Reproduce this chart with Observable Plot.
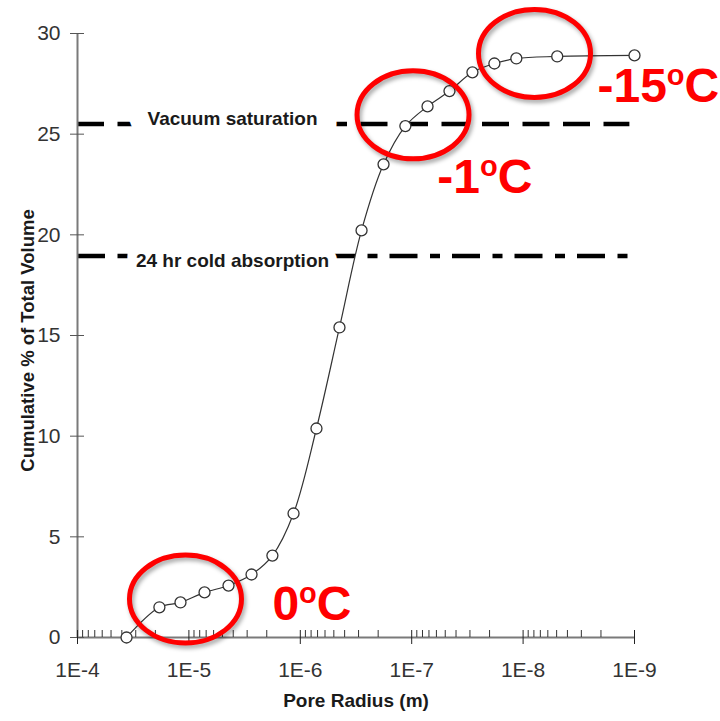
<!DOCTYPE html>
<html>
<head>
<meta charset="utf-8">
<script src="https://cdn.jsdelivr.net/npm/d3@7"></script>
<script src="https://cdn.jsdelivr.net/npm/@observablehq/plot@0.6"></script>
<style>
  html, body { margin: 0; padding: 0; background: white; }
  .ellipse path { filter: drop-shadow(2px 3px 2px rgba(0,0,0,0.35)); }
</style>
</head>
<body>
<script>
// ---- data ----
const poreRadius = [3.63e-5, 1.84e-5, 1.19e-5, 7.24e-6, 4.41e-6, 2.74e-6, 1.78e-6, 1.15e-6, 7.16e-7, 4.45e-7,
                    2.82e-7, 1.79e-7, 1.14e-7, 7.21e-8, 4.58e-8, 2.85e-8, 1.81e-8, 1.15e-8, 4.94e-9, 1e-9];
const cumVolume  = [0, 1.5, 1.74, 2.24, 2.58, 3.13, 4.07, 6.16, 10.38, 15.4,
                    20.22, 23.5, 25.4, 26.38, 27.14, 28.07, 28.51, 28.76, 28.86, 28.91];

const yTicks = [0, 5, 10, 15, 20, 25, 30];
const xMajorTicks = [1e-4, 1e-5, 1e-6, 1e-7, 1e-8, 1e-9];
const xTickLabels = ["1E-4", "1E-5", "1E-6", "1E-7", "1E-8", "1E-9"];
const minorMantissas = [2, 3, 4, 5, 6, 7, 8, 9];
const minorDecades = [1e-9, 1e-8, 1e-7, 1e-6, 1e-5];

const refLabels = ["Vacuum saturation", "24 hr cold absorption"];
const refValues = [25.5, 18.95];
const refLabelX = 4.06e-6;
const refLineEnd = 1.1e-9;

const tempText = ["0oC", "-1oC", "-15oC"];
const tempX = [1.78e-6, 5.9e-8, 2.15e-9];
const tempY = [1.61, 22.82, 27.34];

const ellipseX = [1.073e-5, 9.73e-8, 7.9e-9];
const ellipseY = [1.91, 25.96, 29.01];

const xTitle = "Pore Radius (m)";
const yTitle = "Cumulative % of Total Volume";

// ---- build ----
const data = poreRadius.map((r, i) => ({r, v: cumVolume[i]}));
const minorTicks = minorDecades.flatMap(d => minorMantissas.map(m => m * d));
const tempData = tempText.map((t, i) => ({t, x: tempX[i], y: tempY[i]}));
const ellipseData = ellipseX.map((x, i) => ({x, y: ellipseY[i]}));

const ellipseSymbol = {
  draw(context) {
    const rx = 56, ry = 44, k = 0.5522847498;
    context.moveTo(rx, 0);
    context.bezierCurveTo(rx, k * ry, k * rx, ry, 0, ry);
    context.bezierCurveTo(-k * rx, ry, -rx, k * ry, -rx, 0);
    context.bezierCurveTo(-rx, -k * ry, -k * rx, -ry, 0, -ry);
    context.bezierCurveTo(k * rx, -ry, rx, -k * ry, rx, 0);
    context.closePath();
  }
};

const plot = Plot.plot({
  width: 720,
  height: 721,
  marginLeft: 77,
  marginRight: 86,
  marginTop: 33,
  marginBottom: 84,
  style: {fontFamily: "'Liberation Sans', Arial, Helvetica, sans-serif", background: "white", overflow: "visible"},
  x: {type: "log", domain: [1e-4, 1e-9], label: null},
  y: {domain: [0, 30], label: null},
  marks: [
    // reference lines
    Plot.ruleY([refValues[0]], {x1: 1e-4, x2: refLineEnd, stroke: "black", strokeWidth: 4.5, strokeDasharray: "27,13.5"}),
    Plot.ruleY([refValues[1]], {x1: 1e-4, x2: refLineEnd, stroke: "black", strokeWidth: 4.5, strokeDasharray: "28,12.5,10,12"}),
    Plot.text([refLabels[0]], {x: refLabelX, y: refValues[0], dy: -5, text: d => d, fontSize: 19, fontWeight: "bold",
      fill: "#1a1a1a", stroke: "white", strokeWidth: 40}),
    Plot.text([refLabels[1]], {x: refLabelX, y: refValues[1], dy: 5, text: d => d, fontSize: 19, fontWeight: "bold",
      fill: "#1a1a1a", stroke: "white", strokeWidth: 18}),
    // axes
    Plot.ruleX([1e-4], {y1: 0, y2: 30, stroke: "#7a7a7a", strokeWidth: 2}),
    Plot.ruleY([0], {x1: 1e-4, x2: 1e-9, stroke: "#7a7a7a", strokeWidth: 2}),
    Plot.axisY(yTicks, {tickSize: 14, dx: 7, tickPadding: 10, fontSize: 21, stroke: "#555", fill: "#333", label: null}),
    Plot.axisX(xMajorTicks, {tickSize: 14, dy: -7, tickPadding: 18, fontSize: 21, stroke: "#222", fill: "#333",
      tickFormat: (d, i) => xTickLabels[xMajorTicks.indexOf(d)], label: null}),
    Plot.axisX(minorTicks, {tickSize: 7, dy: -7, stroke: "#333", fill: "none", label: null}),
    // axis titles
    Plot.text([xTitle], {frameAnchor: "bottom", dy: 69, text: d => d, fontSize: 19, fontWeight: "bold", fill: "#1a1a1a"}),
    Plot.text([yTitle], {frameAnchor: "left", textAnchor: "middle", dx: -49, dy: 5, rotate: -90, text: d => d,
      fontSize: 18.5, fontWeight: "bold", fill: "#1a1a1a"}),
    // data
    Plot.line(data, {x: "r", y: "v", curve: "catmull-rom", stroke: "#333", strokeWidth: 1.2}),
    Plot.dot(data, {x: "r", y: "v", r: 5.5, fill: "white", stroke: "#333", strokeWidth: 1.3}),
    // annotations
    Plot.dot(ellipseData, {x: "x", y: "y", symbol: ellipseSymbol, r: 10, fill: "none", stroke: "#f00", strokeWidth: 5, className: "ellipse"}),
    Plot.text(tempData, {x: "x", y: "y", text: "t", fill: "#f00", fontSize: 48, fontWeight: "bold", textAnchor: "start", className: "temp-label"})
  ]
});

d3.select(plot).selectAll("g.temp-label text").each(function () {
  const t = this.textContent;
  const i = t.indexOf("o");
  const sel = d3.select(this);
  sel.text(t.slice(0, i));
  sel.append("tspan").attr("font-size", 29).attr("dy", -17).text("o");
  sel.append("tspan").attr("dy", 17).text(t.slice(i + 1));
});

document.body.appendChild(plot);
</script>
</body>
</html>
